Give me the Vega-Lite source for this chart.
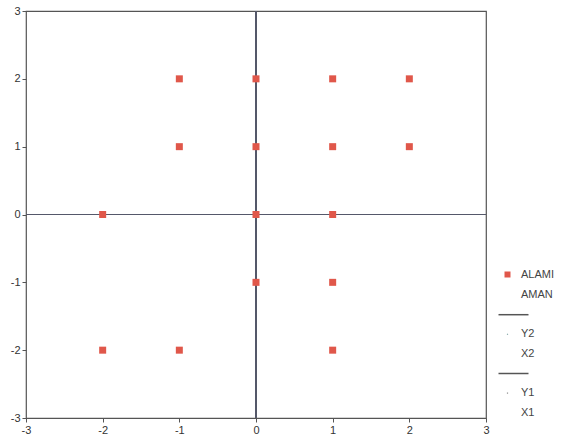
{
  "$schema": "https://vega.github.io/schema/vega-lite/v6.json",
  "width": 460,
  "height": 407,
  "autosize": "none",
  "padding": {"left": 26, "top": 11, "right": 85, "bottom": 22},
  "background": "white",
  "config": {
    "view": {"stroke": "#555", "strokeWidth": 1.2},
    "font": "Liberation Sans",
    "axis": {"labelFont": "Liberation Sans", "labelFontSize": 11, "labelColor": "#333", "domain": false, "grid": false, "tickColor": "#555", "tickSize": 4, "labelFlush": false, "title": null, "labelExpr": "datum.value < 0 ? '-' + abs(datum.value) : '' + datum.value"}
  },
  "data": {"values": [
    {"x": -1, "y": 2, "series": "ALAMI"},
    {"x": 0, "y": 2, "series": "ALAMI"},
    {"x": 1, "y": 2, "series": "ALAMI"},
    {"x": 2, "y": 2, "series": "ALAMI"},
    {"x": -1, "y": 1, "series": "ALAMI"},
    {"x": 0, "y": 1, "series": "ALAMI"},
    {"x": 1, "y": 1, "series": "ALAMI"},
    {"x": 2, "y": 1, "series": "ALAMI"},
    {"x": -2, "y": 0, "series": "ALAMI"},
    {"x": 0, "y": 0, "series": "ALAMI"},
    {"x": 1, "y": 0, "series": "ALAMI"},
    {"x": 0, "y": -1, "series": "ALAMI"},
    {"x": 1, "y": -1, "series": "ALAMI"},
    {"x": -2, "y": -2, "series": "ALAMI"},
    {"x": -1, "y": -2, "series": "ALAMI"},
    {"x": 1, "y": -2, "series": "ALAMI"}
  ]},
  "layer": [
    {
      "mark": {"type": "rule", "color": "#55586a", "strokeWidth": 1.1},
      "encoding": {"x": {"datum": 0, "type": "quantitative", "scale": {"domain": [-3, 3]}}}
    },
    {
      "mark": {"type": "rule", "color": "#55586a", "strokeWidth": 1.1},
      "encoding": {"y": {"datum": 0, "type": "quantitative", "scale": {"domain": [-3, 3]}}}
    },
    {
      "mark": {"type": "point", "opacity": 1, "size": 49, "strokeWidth": 1.5},
      "encoding": {
        "x": {"field": "x", "type": "quantitative", "scale": {"domain": [-3, 3], "nice": false, "zero": false}, "axis": {"values": [-3, -2, -1, 0, 1, 2, 3], "orient": "bottom"}},
        "y": {"field": "y", "type": "quantitative", "scale": {"domain": [-3, 3], "nice": false, "zero": false}, "axis": {"values": [-3, -2, -1, 0, 1, 2, 3], "orient": "left"}},
        "fill": {
          "field": "series", "type": "nominal",
          "scale": {"domain": ["ALAMI", "AMAN", "L1", "Y2", "X2", "L2", "Y1", "X1"],
                    "range": ["#e0574a", "transparent", "transparent", "#8aa", "transparent", "transparent", "#888", "transparent"]},
          "legend": {
            "title": null, "orient": "none", "legendX": 476, "legendY": 258, "padding": 0,
            "symbolSize": 36, "labelFontSize": 11, "labelColor": "#444", "labelFont": "Liberation Sans",
            "rowPadding": 7.6, "labelOffset": 8, "symbolStrokeWidth": 1.5, "symbolOpacity": 1,
            "labelExpr": "datum.label == 'L1' || datum.label == 'L2' ? '' : datum.label"
          }
        },
        "stroke": {
          "field": "series", "type": "nominal",
          "scale": {"domain": ["ALAMI", "AMAN", "L1", "Y2", "X2", "L2", "Y1", "X1"],
                    "range": ["transparent", "transparent", "#555", "transparent", "transparent", "#555", "transparent", "transparent"]},
          "legend": {
            "title": null, "orient": "none", "legendX": 476, "legendY": 258, "padding": 0,
            "symbolSize": 36, "labelFontSize": 11, "labelColor": "#444", "labelFont": "Liberation Sans",
            "rowPadding": 7.6, "labelOffset": 8, "symbolStrokeWidth": 1.5, "symbolOpacity": 1,
            "labelExpr": "datum.label == 'L1' || datum.label == 'L2' ? '' : datum.label"
          }
        },
        "shape": {
          "field": "series", "type": "nominal",
          "scale": {"domain": ["ALAMI", "AMAN", "L1", "Y2", "X2", "L2", "Y1", "X1"],
                    "range": ["M-1,-1H1V1H-1Z", "M0,0", "M-3,0H7", "M-0.2,-0.2H0.2V0.2H-0.2Z", "M0,0", "M-3,0H7", "M-0.2,-0.2H0.2V0.2H-0.2Z", "M0,0"]},
          "legend": {
            "title": null, "orient": "none", "legendX": 476, "legendY": 258, "padding": 0,
            "symbolSize": 36, "labelFontSize": 11, "labelColor": "#444", "labelFont": "Liberation Sans",
            "rowPadding": 7.6, "labelOffset": 8, "symbolStrokeWidth": 1.5, "symbolOpacity": 1,
            "labelExpr": "datum.label == 'L1' || datum.label == 'L2' ? '' : datum.label"
          }
        }
      }
    }
  ]
}
